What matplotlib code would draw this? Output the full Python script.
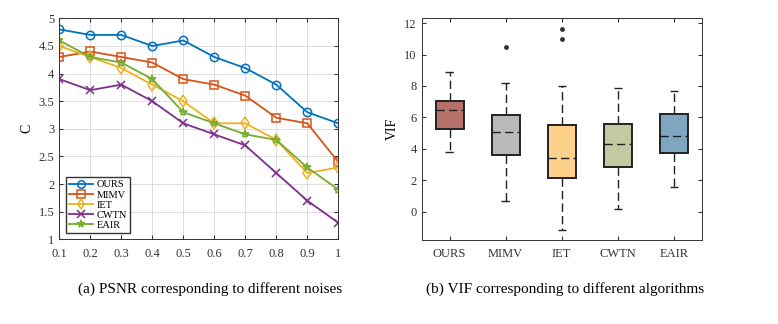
import matplotlib.pyplot as plt

plt.rcParams['font.family'] = ['Liberation Serif', 'DejaVu Serif']
plt.rcParams['font.size'] = 9

# ---- data (a) ----
noise = [0.1, 0.2, 0.3, 0.4, 0.5, 0.6, 0.7, 0.8, 0.9, 1.0]
ours = [4.8, 4.7, 4.7, 4.5, 4.6, 4.3, 4.1, 3.8, 3.3, 3.1]
mimv = [4.3, 4.4, 4.3, 4.2, 3.9, 3.8, 3.6, 3.2, 3.1, 2.4]
iet = [4.5, 4.3, 4.1, 3.8, 3.5, 3.1, 3.1, 2.8, 2.2, 2.3]
cwtn = [3.9, 3.7, 3.8, 3.5, 3.1, 2.9, 2.7, 2.2, 1.7, 1.3]
eair = [4.6, 4.3, 4.2, 3.9, 3.3, 3.1, 2.9, 2.8, 2.3, 1.9]

# ---- data (b): low whisker, Q1, median, Q3, high whisker ----
algos = ["OURS", "MIMV", "IET", "CWTN", "EAIR"]
whislo = [3.8, 0.7, -1.15, 0.2, 1.55]
q1 = [5.25, 3.6, 2.15, 2.85, 3.75]
med = [6.5, 5.1, 3.4, 4.3, 4.8]
q3 = [7.05, 6.15, 5.5, 5.6, 6.2]
whishi = [8.9, 8.2, 8.0, 7.85, 7.65]
fliers = [[], [10.5], [11.0, 11.6], [], []]
box_colors = ["#b8706b", "#b9b9b9", "#fdd08b", "#c3caa1", "#7fa6c1"]

fig = plt.figure(figsize=(7.78, 3.24), dpi=100)

# -------- (a) line chart --------
ax1 = fig.add_axes([0.0762, 0.2614, 0.3586, 0.682])
series = [("OURS", ours, "o", "#0072BD"),
          ("MIMV", mimv, "s", "#D95319"),
          ("IET", iet, "d", "#EDB120"),
          ("CWTN", cwtn, "x", "#7E2F8E"),
          ("EAIR", eair, "*", "#77AC30")]
for name, vals, mk, col in series:
    ax1.plot(noise, vals, marker=mk, color=col, label=name, lw=1.3,
             ms=6, mfc="none", mew=1.1)
ax1.set_xlim(0.1, 1.0)
ax1.set_ylim(1, 5)
ax1.set_xticks(noise)
ax1.set_xticklabels(["0.1", "0.2", "0.3", "0.4", "0.5", "0.6", "0.7", "0.8", "0.9", "1"])
ax1.set_yticks([1, 1.5, 2, 2.5, 3, 3.5, 4, 4.5, 5])
ax1.set_yticklabels(["1", "1.5", "2", "2.5", "3", "3.5", "4", "4.5", "5"])
ax1.set_ylabel("C", fontsize=10)
ax1.grid(True, color="#dddddd", lw=0.7)
ax1.tick_params(direction="in", length=3, top=True, right=True, colors="#333333", labelsize=9)
ax1.tick_params(axis="x", pad=6)
for s in ax1.spines.values():
    s.set_color("#333333")
    s.set_linewidth(0.7)
ax1.legend(loc="lower left", fontsize=7.5, frameon=True, fancybox=False,
           edgecolor="black", handlelength=2.3, handletextpad=0.4,
           borderpad=0.3, labelspacing=0.08, borderaxespad=0.6, markerscale=0.9)

# -------- (b) box plot --------
ax2 = fig.add_axes([0.542, 0.2593, 0.36, 0.684])
stats = []
for i, name in enumerate(algos):
    stats.append(dict(label=name, whislo=whislo[i], q1=q1[i], med=med[i],
                      q3=q3[i], whishi=whishi[i], fliers=fliers[i]))
bp = ax2.bxp(stats, positions=range(1, 6), widths=0.5, patch_artist=True,
             showfliers=True,
             boxprops=dict(edgecolor="#222222", lw=1.4),
             medianprops=dict(color="#222222", ls=(0, (6, 3)), lw=1.0),
             whiskerprops=dict(color="#222222", ls=(0, (6, 3)), lw=1.0),
             capprops=dict(color="#222222", ls=(0, (6, 3)), lw=1.0),
             capwidths=0.15,
             flierprops=dict(marker="o", markersize=2.5, markerfacecolor="#333333",
                             markeredgecolor="#333333"))
for patch, c in zip(bp["boxes"], box_colors):
    patch.set_facecolor(c)
ax2.set_xlim(0.5, 5.5)
ax2.set_ylim(-1.8, 12.3)
ax2.set_yticks([0, 2, 4, 6, 8, 10, 12])
ax2.set_ylabel("VIF", fontsize=10)
ax2.tick_params(direction="in", length=3, top=True, right=True, colors="#333333", labelsize=9)
ax2.tick_params(axis="x", pad=6)
for s in ax2.spines.values():
    s.set_color("#333333")
    s.set_linewidth(0.7)

# captions
fig.text(0.27, 0.095, "(a) PSNR corresponding to different noises", ha="center", fontsize=11)
fig.text(0.726, 0.095, "(b) VIF corresponding to different algorithms", ha="center", fontsize=11)

fig.savefig("out.png", dpi=100)
